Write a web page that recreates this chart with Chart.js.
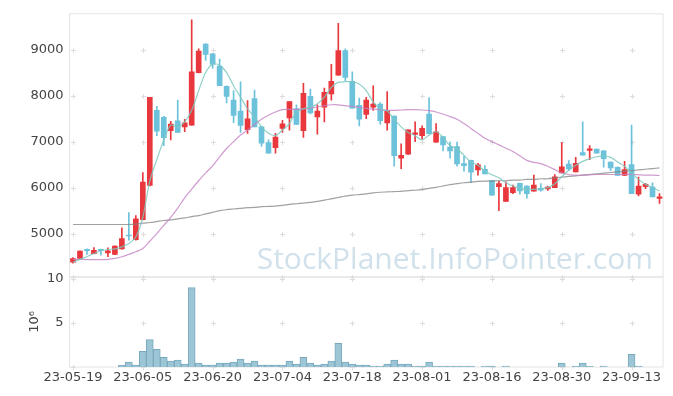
<!DOCTYPE html>
<html lang="ko">
<head>
<meta charset="UTF-8">
<title>Stock Chart</title>
<script src="https://cdn.jsdelivr.net/npm/chart.js"></script>
<style>
  body { margin: 0; background: #fff; }
  #wrap { width: 673px; height: 396px; }
</style>
</head>
<body>
<div id="wrap"><canvas id="stockChart"></canvas></div>
<script>
  // trading days (YY-MM-DD)
  const dates = [
    '23-05-19','23-05-22','23-05-23','23-05-24','23-05-25','23-05-26','23-05-30','23-05-31','23-06-01','23-06-02',
    '23-06-05','23-06-07','23-06-08','23-06-09','23-06-12','23-06-13','23-06-14','23-06-15','23-06-16','23-06-19',
    '23-06-20','23-06-21','23-06-22','23-06-23','23-06-26','23-06-27','23-06-28','23-06-29','23-06-30','23-07-03',
    '23-07-04','23-07-05','23-07-06','23-07-07','23-07-10','23-07-11','23-07-12','23-07-13','23-07-14','23-07-17',
    '23-07-18','23-07-19','23-07-20','23-07-21','23-07-24','23-07-25','23-07-26','23-07-27','23-07-28','23-07-31',
    '23-08-01','23-08-02','23-08-03','23-08-04','23-08-07','23-08-08','23-08-09','23-08-10','23-08-11','23-08-14',
    '23-08-16','23-08-17','23-08-18','23-08-21','23-08-22','23-08-23','23-08-24','23-08-25','23-08-28','23-08-29',
    '23-08-30','23-08-31','23-09-01','23-09-04','23-09-05','23-09-06','23-09-07','23-09-08','23-09-11','23-09-12',
    '23-09-13','23-09-14','23-09-15','23-09-18','23-09-19'
  ];

  const openP = [
    4380,4464,4660,4565,4660,4585,4550,4670,4965,4871,
    5307,6050,7679,7529,7236,7450,7321,7357,8500,9121,
    8907,8643,8200,7900,7664,7257,7936,7321,6979,6871,
    7286,7514,7714,7236,7986,7536,7750,8036,8443,8979,
    8307,7786,7593,7750,7814,7407,7557,6643,6729,7157,
    7129,7600,6986,7107,6879,6893,6521,6593,6386,6400,
    6157,6021,5700,5893,6093,6036,5921,5986,5971,6000,
    6321,6514,6343,6764,6807,6836,6800,6557,6443,6264,
    6500,5857,6021,6014,5764
  ];
  const highP = [
    4480,4630,4670,4700,4665,4693,4735,5128,5457,5393,
    6329,7964,7764,7550,7443,7900,7486,9643,9014,9130,
    8915,8790,8210,8107,8300,7893,8121,7330,7036,7180,
    7464,7871,7800,8264,8143,7800,8164,8679,9571,9014,
    8514,7943,7964,8214,7850,8086,7560,6950,7257,7429,
    7343,7950,7393,7110,6990,6990,6680,6600,6530,6480,
    6160,6143,6129,6057,6100,6040,6271,6086,6029,6286,
    6979,6586,6657,7429,6914,6840,6805,6560,6450,6571,
    7357,6229,6093,6107,5871
  ];
  const lowP = [
    4360,4455,4550,4560,4536,4500,4545,4665,4857,4860,
    5300,6040,7129,6914,7036,7200,7214,7350,8490,8764,
    8590,8214,7843,7414,7200,7179,7321,6893,6750,6750,
    7200,7250,7371,7093,7600,7164,7429,7900,8440,8321,
    7729,7343,7500,7679,7379,7250,6464,6414,6720,7000,
    7057,7171,6980,6800,6643,6464,6357,6107,6271,6300,
    5836,5500,5700,5870,5857,5771,5921,5921,5940,6000,
    6321,6371,6340,6707,6607,6750,6443,6371,6264,6260,
    5871,5822,5979,5800,5657
  ];
  const closeP = [
    4460,4620,4630,4640,4630,4630,4730,4893,4950,5321,
    6121,7964,7229,7086,7379,7200,7407,8514,8964,8893,
    8679,8214,7979,7571,7350,7493,7321,6964,6750,7100,
    7386,7871,7371,8050,7621,7664,8071,8307,8979,8393,
    7729,7486,7900,7814,7457,7664,6693,6700,7257,7193,
    7286,7171,7214,6929,6800,6514,6479,6336,6493,6300,
    5836,6086,6000,6000,5929,5871,6057,5943,6014,6236,
    6450,6407,6529,6707,6843,6750,6629,6429,6264,6393,
    5871,6036,6071,5800,5800
  ];

  const ma5 = [
    4378,4443,4500,4571,4630,4657,4671,4714,4786,4929,
    5357,6143,6607,7036,7357,7321,7429,7679,8107,8500,
    8679,8657,8500,8214,7964,7714,7536,7321,7179,7129,
    7250,7393,7643,7714,7750,7821,7964,8179,8286,8300,
    8300,8250,8107,7857,7714,7664,7486,7321,7200,7129,
    7036,7143,7214,7093,6914,6843,6700,6557,6486,6357,
    6279,6214,6107,6036,5986,5964,5964,5979,6000,6086,
    6236,6379,6486,6571,6629,6671,6693,6657,6557,6464,
    6321,6179,6071,6000,5929
  ];
  const ma20 = [
    4443,4443,4436,4436,4436,4443,4464,4500,4550,4607,
    4679,4836,5000,5179,5357,5557,5780,5970,6150,6320,
    6471,6670,6850,7000,7143,7250,7371,7486,7571,7643,
    7693,7700,7700,7714,7729,7757,7779,7800,7800,7780,
    7764,7743,7721,7707,7693,7679,7679,7686,7693,7693,
    7686,7671,7643,7600,7543,7486,7393,7286,7179,7071,
    7000,6929,6857,6786,6693,6593,6550,6521,6464,6393,
    6321,6286,6271,6271,6279,6286,6286,6286,6286,6286,
    6286,6279,6271,6271,6264
  ];
  const ma60 = [
    5200,5200,5200,5200,5200,5200,5200,5200,5200,5207,
    5229,5243,5264,5286,5300,5321,5343,5371,5393,5429,
    5464,5500,5521,5536,5550,5564,5571,5586,5593,5600,
    5614,5636,5650,5664,5679,5700,5729,5757,5786,5814,
    5836,5850,5864,5886,5900,5907,5914,5921,5936,5943,
    5957,5986,6007,6036,6064,6086,6107,6121,6136,6143,
    6143,6150,6150,6164,6164,6179,6179,6193,6193,6214,
    6229,6243,6257,6271,6286,6300,6314,6329,6343,6357,
    6371,6386,6400,6414,6429
  ];
  // volume in millions
  const volume = [
    0,0,0,0,0,0,0,0.19,0.56,0.22,
    1.78,3.1,2.0,1.1,0.67,0.78,0.33,9.0,0.44,0.22,
    0.22,0.44,0.44,0.56,0.89,0.44,0.67,0.22,0.22,0.22,
    0.22,0.67,0.33,1.1,0.44,0.22,0.33,0.67,2.67,0.56,
    0.33,0.22,0.22,0.11,0.11,0.33,0.78,0.33,0.33,0.11,
    0.11,0.56,0.11,0.11,0.11,0.11,0.11,0.11,0,0.11,
    0.11,0,0.11,0,0,0,0,0,0,0,
    0.44,0,0.11,0.44,0.11,0,0.11,0,0,0,
    1.44,0.11,0,0,0
  ];

  const priceTicks = [5000, 6000, 7000, 8000, 9000];
  const volTicks = [5, 10];

  const upColor = '#e8383d';
  const downColor = '#6cc2da';
  const candleColor = openP.map((o, i) => closeP[i] >= o ? upColor : downColor);

  const tickFont = { family: 'DejaVu Sans', size: 13 };

  // frame around both panels + little "+" grid marks
  const panelGrid = {
    id: 'panelGrid',
    beforeDatasetsDraw(chart) {
      const { ctx, chartArea, scales } = chart;
      const x = scales.x;
      ctx.save();
      ctx.strokeStyle = '#e4e4e4';
      ctx.lineWidth = 1;
      [scales.y, scales.yv].forEach(s => {
        ctx.strokeRect(chartArea.left, s.top, chartArea.right - chartArea.left, s.bottom - s.top);
      });
      ctx.strokeStyle = '#dcdcdc';
      const cross = (px, py) => {
        ctx.beginPath();
        ctx.moveTo(px - 2.5, py); ctx.lineTo(px + 2.5, py);
        ctx.moveTo(px, py - 2.5); ctx.lineTo(px, py + 2.5);
        ctx.stroke();
      };
      for (let i = 0; i < dates.length; i += 10) {
        const px = Math.round(x.getPixelForValue(i)) + 0.5;
        priceTicks.forEach(v => cross(px, Math.round(scales.y.getPixelForValue(v)) + 0.5));
        volTicks.forEach(v => cross(px, Math.round(scales.yv.getPixelForValue(v)) + 0.5));
        cross(px, Math.round(scales.y.bottom) + 0.5);
        cross(px, Math.round(scales.yv.bottom) + 0.5);
      }
      ctx.restore();
    }
  };

  const watermark = {
    id: 'watermark',
    beforeDatasetsDraw(chart) {
      const { ctx, chartArea, scales } = chart;
      ctx.save();
      ctx.font = '30px "Open Sans"';
      ctx.fillStyle = 'rgba(150,188,212,0.45)';
      ctx.textAlign = 'right';
      ctx.textBaseline = 'alphabetic';
      ctx.fillText('StockPlanet.InfoPointer.com', chartArea.right - 10, scales.y.bottom - 8);
      ctx.restore();
    }
  };

  const ctx = document.getElementById('stockChart').getContext('2d');
  new Chart(ctx, {
    data: {
      labels: dates,
      datasets: [
        { type: 'line', label: 'MA5', data: ma5, yAxisID: 'y', borderColor: 'rgba(125,200,190,0.85)',
          borderWidth: 1.2, pointRadius: 0, tension: 0.3, order: 0 },
        { type: 'line', label: 'MA20', data: ma20, yAxisID: 'y', borderColor: 'rgba(195,130,195,0.8)',
          borderWidth: 1.2, pointRadius: 0, tension: 0.3, order: 0 },
        { type: 'line', label: 'MA60', data: ma60, yAxisID: 'y', borderColor: 'rgba(130,130,130,0.75)',
          borderWidth: 1.2, pointRadius: 0, tension: 0.3, order: 0 },
        { type: 'bar', label: 'wick', data: lowP.map((l, i) => [l, highP[i]]), yAxisID: 'y',
          backgroundColor: candleColor, barThickness: 1, grouped: false, minBarLength: 1, order: 2 },
        { type: 'bar', label: 'body', data: openP.map((o, i) => [o, closeP[i]]), yAxisID: 'y',
          backgroundColor: candleColor, barThickness: 5, grouped: false, minBarLength: 1, order: 1 },
        { type: 'bar', label: 'volume', data: volume, yAxisID: 'yv',
          backgroundColor: '#9cc6d6', borderColor: '#7aa9be', borderWidth: 1,
          barPercentage: 1, categoryPercentage: 1, grouped: false, order: 3 }
      ]
    },
    options: {
      responsive: true,
      maintainAspectRatio: false,
      animation: false,
      layout: { padding: { top: 10, right: 10, left: 0, bottom: 0 } },
      plugins: { legend: { display: false }, tooltip: { enabled: false } },
      scales: {
        x: {
          type: 'category',
          offset: true,
          grid: { display: false, drawTicks: false },
          border: { display: false },
          ticks: {
            autoSkip: false, maxRotation: 0, padding: 3, color: '#444', font: tickFont,
            callback(v, i) { return i % 10 === 0 ? this.getLabelForValue(v) : ''; }
          },
          afterFit(s) { s.height = 29; }
        },
        yv: {
          position: 'left', stack: 'panels', stackWeight: 91,
          min: 0, max: 10.2,
          grid: { display: false, drawTicks: false },
          border: { display: false },
          ticks: { padding: 6, color: '#444', font: tickFont, callback: v => String(v) },
          title: { display: true, text: '10⁶', color: '#444', font: tickFont, padding: { top: 27, bottom: 0 } },
          afterBuildTicks(s) { s.ticks = volTicks.map(v => ({ value: v })); },
          afterFit(s) { s.width = 69.5; }
        },
        y: {
          position: 'left', stack: 'panels', stackWeight: 266,
          min: 4060, max: 9776,
          grid: { display: false, drawTicks: false },
          border: { display: false },
          ticks: { padding: 6, color: '#444', font: tickFont, callback: v => String(v) },
          afterBuildTicks(s) { s.ticks = priceTicks.map(v => ({ value: v })); },
          afterFit(s) { s.width = 69.5; }
        }
      }
    },
    plugins: [panelGrid, watermark]
  });
</script>
</body>
</html>
